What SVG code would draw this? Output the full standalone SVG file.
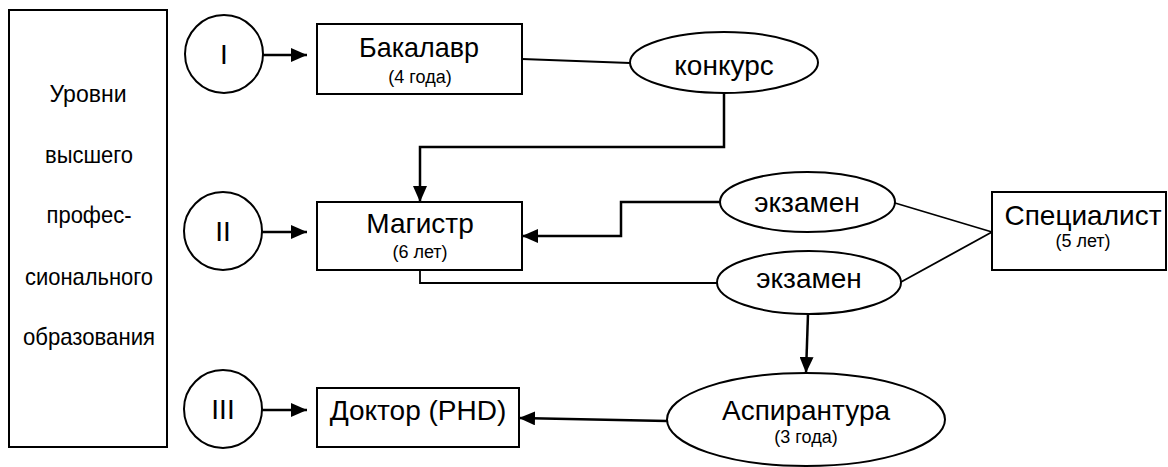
<svg xmlns="http://www.w3.org/2000/svg" width="1168" height="467" viewBox="0 0 1168 467">
<defs>
<style>
.box{fill:#fff;stroke:#000;stroke-width:2}
.t{font-family:"Liberation Sans",Arial,sans-serif;fill:#000;text-anchor:middle}
.m{font-size:28px}
.s{font-size:18px}
.side{font-size:24px}
.c{fill:none;stroke:#000;stroke-width:2.5}
.thin{fill:none;stroke:#000;stroke-width:1.8}
</style>
<marker id="ah" markerUnits="userSpaceOnUse" markerWidth="16" markerHeight="14" refX="16" refY="7" orient="auto">
<path d="M0,0 L16,7 L0,14 z" fill="#000"/>
</marker>
</defs>
<rect width="1168" height="467" fill="#fff"/>

<g id="levels">
<rect class="box" x="9" y="10" width="158" height="437"/>
<text class="t side" x="88" y="102" textLength="77" lengthAdjust="spacingAndGlyphs">Уровни</text>
<text class="t side" x="89" y="163" textLength="88" lengthAdjust="spacingAndGlyphs">высшего</text>
<text class="t side" x="89" y="223" textLength="85" lengthAdjust="spacingAndGlyphs">профес-</text>
<text class="t side" x="89" y="285" textLength="128" lengthAdjust="spacingAndGlyphs">сионального</text>
<text class="t side" x="89" y="345" textLength="132" lengthAdjust="spacingAndGlyphs">образования</text>
</g>

<g id="c1"><circle class="box" cx="224" cy="54" r="39"/><text class="t m" x="224" y="64">I</text></g>
<g id="c2"><circle class="box" cx="223" cy="231" r="39"/><text class="t m" x="223" y="241">II</text></g>
<g id="c3"><circle class="box" cx="223" cy="409" r="39"/><text class="t m" x="223" y="419">III</text></g>

<g id="bakalavr"><rect class="box" x="317" y="24" width="205" height="70"/>
<text class="t m" x="419" y="57" textLength="120" lengthAdjust="spacingAndGlyphs">Бакалавр</text>
<text class="t s" x="420" y="83">(4 года)</text></g>

<g id="magistr"><rect class="box" x="317" y="202" width="205" height="68"/>
<text class="t m" x="420" y="233">Магистр</text>
<text class="t s" x="420" y="258">(6 лет)</text></g>

<g id="doctor"><rect class="box" x="317" y="388" width="202" height="59"/>
<text class="t m" x="418" y="420">Доктор (PHD)</text></g>

<g id="konkurs"><ellipse class="box" cx="724" cy="62.5" rx="94" ry="30.5"/>
<text class="t m" x="724" y="75">конкурс</text></g>

<g id="exam1"><ellipse class="box" cx="807.5" cy="202" rx="87.5" ry="30"/>
<text class="t m" x="807" y="212">экзамен</text></g>

<g id="exam2"><ellipse class="box" cx="809" cy="282.5" rx="92" ry="31.5"/>
<text class="t m" x="809" y="288">экзамен</text></g>

<g id="specialist"><rect class="box" x="992" y="192" width="174" height="78"/>
<text class="t m" x="1083" y="225">Специалист</text>
<text class="t s" x="1083" y="247">(5 лет)</text></g>

<g id="aspirantura"><ellipse class="box" cx="806" cy="419.5" rx="139" ry="46.5"/>
<text class="t m" x="806" y="420">Аспирантура</text>
<text class="t s" x="806" y="443">(3 года)</text></g>

<g id="connectors">
<line class="c" x1="263" y1="55" x2="307" y2="55" marker-end="url(#ah)"/>
<line class="c" x1="262" y1="232" x2="307" y2="232" marker-end="url(#ah)"/>
<line class="c" x1="262" y1="410" x2="307" y2="410" marker-end="url(#ah)"/>
<line class="thin" x1="522" y1="59" x2="630" y2="63"/>
<polyline class="c" points="724,93 724,147 420,147 420,202" marker-end="url(#ah)"/>
<polyline class="c" points="720,202 621,202 621,236 522,236" marker-end="url(#ah)"/>
<polyline class="thin" points="420,270 420,283 717,283"/>
<line class="thin" x1="895" y1="203" x2="992" y2="232"/>
<line class="thin" x1="901" y1="282" x2="992" y2="232"/>
<line class="c" x1="808" y1="314" x2="806" y2="373" marker-end="url(#ah)"/>
<line class="c" x1="667" y1="421" x2="519" y2="418" marker-end="url(#ah)"/>
</g>
</svg>
